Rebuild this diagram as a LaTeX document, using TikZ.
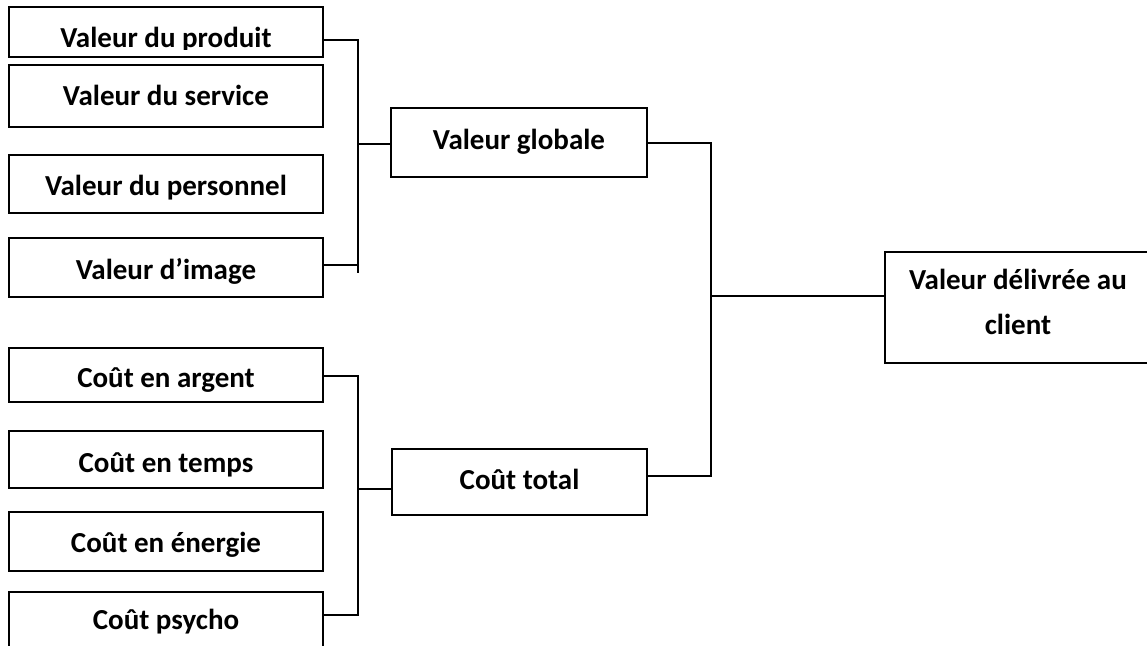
\documentclass[tikz,border=0pt]{standalone}
\usepackage{fontspec}
\setmainfont{Carlito}
\begin{document}
\begin{tikzpicture}[x=1pt,y=-1pt,
  box/.style={draw, line width=1.6pt, inner sep=0pt},
  lbl/.style={font=\fontsize{29}{45}\selectfont\bfseries, anchor=base, inner sep=0pt},
  conn/.style={line width=1.6pt}]
\useasboundingbox (0,0) rectangle (1147,645);
% left value boxes
\node[box, minimum width=314pt, minimum height=50pt] (b1) at (166,32) {};
\node[box, minimum width=314pt, minimum height=62pt] (b2) at (166,96) {};
\node[box, minimum width=314pt, minimum height=58pt] (b3) at (166,184) {};
\node[box, minimum width=314pt, minimum height=59pt] (b4) at (166,267.5) {};
\begin{scope}
\clip (9,7) rectangle (323,49);
\node[lbl] (t1) at (166,47) {Valeur du produit};
\end{scope}
\node[lbl] (t2) at (166,105) {Valeur du service};
\node[lbl] (t3) at (166,195) {Valeur du personnel};
\node[lbl] (t4) at (166,279) {Valeur d’image};
% left cost boxes
\node[box, minimum width=314pt, minimum height=54pt] (c1) at (166,375) {};
\node[box, minimum width=314pt, minimum height=57pt] (c2) at (166,459.5) {};
\node[box, minimum width=314pt, minimum height=59pt] (c3) at (166,541.5) {};
\node[box, minimum width=314pt, minimum height=70pt] (c4) at (166,627) {};
\node[lbl] (u1) at (166,387) {Coût en argent};
\node[lbl] (u2) at (166,472) {Coût en temps};
\node[lbl] (u3) at (166,552) {Coût en énergie};
\node[lbl] (u4) at (166,629) {Coût psycho};
% middle boxes
\node[box, minimum width=256pt, minimum height=69pt] (vg) at (519,142.5) {};
\node[lbl] (tvg) at (519,149) {Valeur globale};
\node[box, minimum width=255pt, minimum height=66pt] (ct) at (519.5,482) {};
\node[lbl] (tct) at (519.5,489) {Coût total};
% right box
\node[box, minimum width=267pt, minimum height=111pt] (vd) at (1018.5,307.5) {};
\node[lbl, align=center] (tvd) at (1018,334) {Valeur délivrée au\\client};
% junctions
\coordinate (ja) at (358,40);
\coordinate (jb) at (358,273);
\coordinate (jc) at (358,144);
\coordinate (jd) at (358,376);
\coordinate (je) at (358,615);
\coordinate (jf) at (358,489);
\coordinate (jg) at (711,143);
\coordinate (jh) at (711,476);
\coordinate (ji) at (711,296);
% value bracket
\draw[conn] (b1.east |- ja) -- (ja) -- (jb);
\draw[conn] (b4.east |- 0,265) -- (358,265);
\draw[conn] (jc) -- (vg.west |- jc);
% cost bracket
\draw[conn] (c1.east |- jd) -- (jd) -- (je) -- (c4.east |- je);
\draw[conn] (jf) -- (ct.west |- jf);
% right bracket
\draw[conn] (vg.east |- jg) -- (jg) -- (jh) -- (ct.east |- jh);
\draw[conn] (ji) -- (vd.west |- ji);
\end{tikzpicture}
\end{document}
